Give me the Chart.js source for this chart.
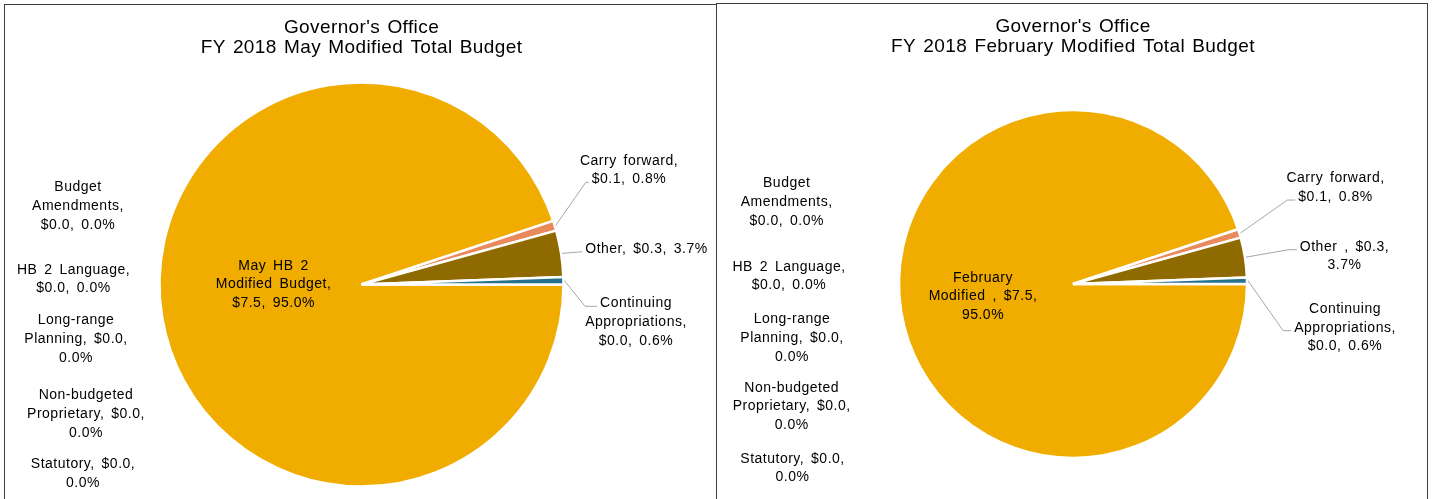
<!DOCTYPE html>
<html>
<head>
<meta charset="utf-8">
<script src="https://cdn.jsdelivr.net/npm/chart.js@4.4.1/dist/chart.umd.min.js"></script>
<style>
  html, body { margin: 0; padding: 0; background: #fff; overflow: hidden; }
  .box { position: absolute; border: 1px solid #404040; background: #fff; }
  #boxMay { left: 4px; top: 4px; width: 711px; height: 520px; }
  #boxFeb { left: 716px; top: 3px; width: 710px; height: 520px; }
  canvas { display: block; }
</style>
</head>
<body>
<div id="boxMay" class="box"><canvas id="mayChart" width="711" height="520"></canvas></div>
<div id="boxFeb" class="box"><canvas id="febChart" width="710" height="520"></canvas></div>
<script>
        // slice order follows the pie, clockwise from 3 o'clock
        const mayCategories = ['May HB 2 Modified Budget', 'Carry forward', 'Other', 'Continuing Appropriations',
            'Budget Amendments', 'HB 2 Language', 'Long-range Planning', 'Non-budgeted Proprietary', 'Statutory'];
        const febCategories = ['February Modified ', 'Carry forward', 'Other ', 'Continuing Appropriations',
            'Budget Amendments', 'HB 2 Language', 'Long-range Planning', 'Non-budgeted Proprietary', 'Statutory'];
        // $ millions and share of total, as printed on the labels
        const mayDollars = [7.5, 0.1, 0.3, 0.0, 0.0, 0.0, 0.0, 0.0, 0.0];
        const mayPercents = [95.0, 0.8, 3.7, 0.6, 0.0, 0.0, 0.0, 0.0, 0.0];
        const febDollars = [7.5, 0.1, 0.3, 0.0, 0.0, 0.0, 0.0, 0.0, 0.0];
        const febPercents = [95.0, 0.8, 3.7, 0.6, 0.0, 0.0, 0.0, 0.0, 0.0];

        const sliceColors = ['#F0AD00', '#E98A5C', '#8F6A00', '#24728C',
            '#4472C4', '#A5A5A5', '#5B9BD5', '#70AD47', '#264478'];
        const FONT = '"Liberation Sans", Arial, sans-serif';
        const LINE_H = 18.7;

        // where each data label sits relative to the pie centre (Excel "best fit" look)
        const mayLabelLayout = [
            { dx: -88, dy: 0, words: [3, 2, 2] },
            { dx: 267.5, dy: -114.5, words: [2, 2], leader: 1, tail: 3 },
            { dx: 285, dy: -35.8, words: [3], leader: 0, tail: 0 },
            { dx: 274.5, dy: 37.5, words: [1, 1, 2], leader: 0, tail: 12 },
            { dx: -283.5, dy: -78.5, words: [1, 1, 2] },
            { dx: -288, dy: -5.5, words: [3, 2] },
            { dx: -285.5, dy: 54.8, words: [1, 2, 1] },
            { dx: -275.5, dy: 129.8, words: [1, 2, 1] },
            { dx: -278.5, dy: 188.8, words: [2, 1] }
        ];
        const febLabelLayout = [
            { dx: -90, dy: 12.5, words: [1, 3, 1] },
            { dx: 262.5, dy: -96.3, words: [2, 2], leader: 1, tail: 8 },
            { dx: 271.5, dy: -28, words: [3, 1], leader: 0, tail: 8 },
            { dx: 272, dy: 43.7, words: [1, 1, 2], leader: 1, tail: 8 },
            { dx: -286.3, dy: -82, words: [1, 1, 2] },
            { dx: -284, dy: -8, words: [3, 2] },
            { dx: -281, dy: 54.3, words: [1, 2, 1] },
            { dx: -281.3, dy: 122.5, words: [1, 2, 1] },
            { dx: -280.5, dy: 184, words: [2, 1] }
        ];

        const sliceLabels = {
            id: 'sliceLabels',
            beforeDraw(chart) {
                // Excel renders its text a bit wider than the browser does
                chart.ctx.letterSpacing = '0.4px';
                chart.ctx.wordSpacing = '1.5px';
            },
            afterDatasetsDraw(chart, args, opts) {
                const ctx = chart.ctx;
                const arcs = chart.getDatasetMeta(0).data;
                ctx.save();
                ctx.font = '14px ' + FONT;
                ctx.letterSpacing = '0.5px';
                ctx.wordSpacing = '2.5px';
                ctx.textAlign = 'center';
                ctx.textBaseline = 'middle';
                ctx.fillStyle = '#000';
                ctx.strokeStyle = '#A6A6A6';
                ctx.lineWidth = 1;
                arcs.forEach((arc, i) => {
                    const place = opts.layout[i];
                    const text = `${opts.names[i]}, $${opts.dollars[i].toFixed(1)}, ${opts.percents[i].toFixed(1)}%`;
                    const words = text.split(' ');
                    const lines = [];
                    let k = 0;
                    place.words.forEach(n => {
                        lines.push(words.slice(k, k + n).join(' '));
                        k += n;
                    });
                    const bx = arc.x + place.dx;
                    const top = arc.y + place.dy - (lines.length - 1) * LINE_H / 2;
                    lines.forEach((ln, j) => ctx.fillText(ln, bx, top + j * LINE_H));

                    if (place.leader !== undefined) {
                        const mid = (arc.startAngle + arc.endAngle) / 2;
                        const sx = arc.x + Math.cos(mid) * (arc.outerRadius + 1);
                        const sy = arc.y + Math.sin(mid) * (arc.outerRadius + 1);
                        const w = ctx.measureText(lines[place.leader]).width;
                        const ex = bx - w / 2 - 3;
                        const ey = top + place.leader * LINE_H + 3;
                        ctx.beginPath();
                        ctx.moveTo(sx, sy);
                        ctx.lineTo(ex - place.tail, ey);
                        ctx.lineTo(ex, ey);
                        ctx.stroke();
                    }
                });
                ctx.restore();
            }
        };

        function makePie(canvasId, title, categories, dollars, percents, layout, radius, padBottom) {
            const ctx = document.getElementById(canvasId).getContext('2d');
            return new Chart(ctx, {
                type: 'pie',
                data: {
                    labels: categories,
                    datasets: [{
                        data: percents,
                        backgroundColor: sliceColors,
                        borderColor: '#FFFFFF',
                        borderWidth: 2.5,
                        hoverOffset: 0,
                        radius: radius
                    }]
                },
                options: {
                    responsive: false,
                    animation: false,
                    rotation: 90,
                    events: [],
                    layout: {
                        padding: { left: 2, right: 0, top: 0, bottom: padBottom }
                    },
                    plugins: {
                        legend: { display: false },
                        tooltip: { enabled: false },
                        title: {
                            display: true,
                            text: title,
                            color: '#000',
                            font: { family: FONT, size: 19, weight: 'normal', lineHeight: '20px' },
                            padding: { top: 13, bottom: 1 }
                        },
                        sliceLabels: {
                            layout: layout,
                            names: categories,
                            dollars: dollars,
                            percents: percents
                        }
                    }
                },
                plugins: [sliceLabels]
            });
        }

        makePie('mayChart', ["Governor's Office", 'FY 2018 May Modified Total Budget'],
            mayCategories, mayDollars, mayPercents, mayLabelLayout, 202, 15);
        makePie('febChart', ["Governor's Office", 'FY 2018 February Modified Total Budget'],
            febCategories, febDollars, febPercents, febLabelLayout, 174, 14);
</script>
</body>
</html>
